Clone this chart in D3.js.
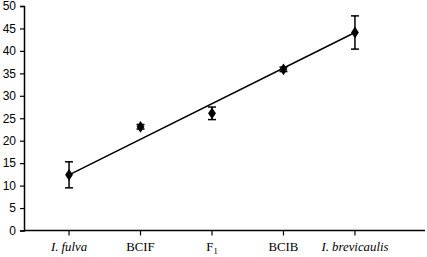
<!DOCTYPE html>
<html>
<head>
<meta charset="utf-8">
<script src="https://cdnjs.cloudflare.com/ajax/libs/d3/7.8.5/d3.min.js"></script>
<style>
  body { margin: 0; background: #fff; }
  svg { display: block; }
</style>
</head>
<body>
<div id="chart"></div>
<script>
  var categories = ["I. fulva", "BCIF", "F1", "BCIB", "I. brevicaulis"];
  var italics    = [true, false, false, false, true];
  var means      = [12.4, 23.1, 26.1, 35.9, 44.1];
  var errors     = [2.9, 0.5, 1.4, 0.5, 3.7];
  var yTicks     = [0, 5, 10, 15, 20, 25, 30, 35, 40, 45, 50];

  var width = 427, height = 257;
  var margin = { left: 24, top: 6, right: 2, bottom: 26 };

  var svg = d3.select("#chart").append("svg")
      .attr("width", width)
      .attr("height", height);

  var y = d3.scaleLinear()
      .domain([0, 50])
      .range([height - margin.bottom - 0.5, margin.top]);

  var x = d3.scaleLinear()
      .domain([-0.63, 4.98])
      .range([margin.left, width - margin.right]);

  // y axis
  var yAxis = svg.append("g")
      .attr("transform", "translate(" + margin.left + ",0)")
      .call(d3.axisLeft(y).tickValues(yTicks).tickSize(4).tickPadding(4));
  yAxis.select(".domain").attr("stroke", "#000").attr("stroke-width", 1.5);
  yAxis.selectAll(".tick line").attr("stroke-width", 1.2);
  yAxis.selectAll("text")
      .attr("font-family", "Liberation Sans, Arial, sans-serif")
      .attr("font-size", 12)
      .attr("fill", "#000");

  // x axis
  var x0 = y(0);
  svg.append("line")
      .attr("x1", margin.left).attr("x2", width - margin.right)
      .attr("y1", x0).attr("y2", x0)
      .attr("stroke", "#000").attr("stroke-width", 1.5);

  svg.selectAll(".xtick")
      .data(categories)
    .enter().append("line")
      .attr("x1", function (d, i) { return x(i); })
      .attr("x2", function (d, i) { return x(i); })
      .attr("y1", x0).attr("y2", x0 + 5)
      .attr("stroke", "#000").attr("stroke-width", 1.2);

  var labels = svg.selectAll(".xlab")
      .data(categories)
    .enter().append("text")
      .attr("x", function (d, i) { return x(i); })
      .attr("y", 251)
      .attr("text-anchor", "middle")
      .attr("font-family", "Liberation Serif, Times New Roman, serif")
      .attr("font-size", 12.8)
      .attr("font-style", function (d, i) { return italics[i] ? "italic" : "normal"; });

  labels.each(function (d) {
    var t = d3.select(this);
    if (d === "F1") {
      t.append("tspan").text("F");
      t.append("tspan").text("1").attr("font-size", 8.5).attr("dy", 3);
    } else {
      t.text(d);
    }
  });

  // trend line through first and last points
  var last = means.length - 1;
  svg.append("line")
      .attr("x1", x(0)).attr("y1", y(means[0]))
      .attr("x2", x(last)).attr("y2", y(means[last]))
      .attr("stroke", "#000").attr("stroke-width", 1.5);

  // error bars
  var eb = svg.selectAll(".err")
      .data(means)
    .enter().append("g");

  eb.append("line")
      .attr("x1", function (d, i) { return x(i); })
      .attr("x2", function (d, i) { return x(i); })
      .attr("y1", function (d, i) { return y(d + errors[i]); })
      .attr("y2", function (d, i) { return y(d - errors[i]); })
      .attr("stroke", "#000").attr("stroke-width", 1.5);

  [1, -1].forEach(function (s) {
    eb.append("line")
        .attr("x1", function (d, i) { return x(i) - 4; })
        .attr("x2", function (d, i) { return x(i) + 4; })
        .attr("y1", function (d, i) { return y(d + s * errors[i]); })
        .attr("y2", function (d, i) { return y(d + s * errors[i]); })
        .attr("stroke", "#000").attr("stroke-width", 1.5);
  });

  // diamond markers
  svg.selectAll(".pt")
      .data(means)
    .enter().append("path")
      .attr("d", d3.symbol().type(d3.symbolDiamond).size(40))
      .attr("transform", function (d, i) {
        return "translate(" + x(i) + "," + y(d) + ") scale(1.15,1)";
      })
      .attr("fill", "#000");
</script>
</body>
</html>
